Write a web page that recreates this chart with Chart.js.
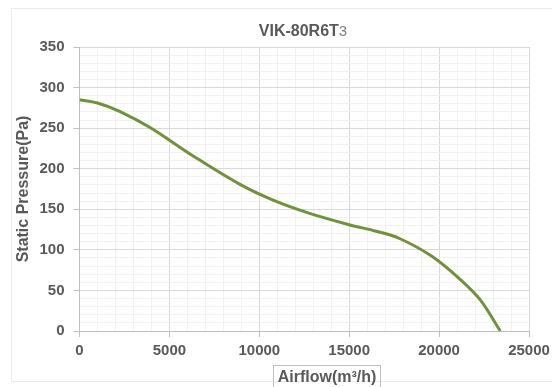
<!DOCTYPE html>
<html>
<head>
<meta charset="utf-8">
<script src="https://cdn.jsdelivr.net/npm/chart.js@4/dist/chart.umd.min.js"></script>
<style>
  body { margin: 0; background: #fff; font-family: "Liberation Sans", Arial, sans-serif; }
  #wrap { position: relative; width: 552px; height: 387px; overflow: hidden; }
  #frame { position: absolute; left: 11px; top: 8px; width: 560px; height: 374px; border: 1px solid #ebebeb; box-sizing: border-box; }
  #title { position: absolute; left: 203px; width: 200px; top: 21px; text-align: center; font-size: 16px; font-weight: bold; color: #595959; line-height: 20px; }
  #title span { font-weight: normal; color: #7f7f7f; font-size: 15px; }
  #xtitle { position: absolute; left: 273px; top: 365px; width: 108px; height: 26px; border: 1px solid #bfbfbf; box-sizing: border-box; text-align: center; font-size: 16px; font-weight: bold; color: #595959; line-height: 22px; }
  canvas { position: absolute; left: 0; top: 0; }
</style>
</head>
<body>
<div id="wrap">
  <div id="frame"></div>
  <canvas id="myChart" width="552" height="387"></canvas>
  <div id="title">VIK-80R6T<span>3</span></div>
  <div id="xtitle">Airflow(m³/h)</div>
</div>
<script>
// airflow (m3/h) and static pressure (Pa)
let airflow = [0, 1000, 2200, 3900, 6300, 8900, 10800, 12800, 15000, 16500, 17800, 19600, 21200, 22300, 23400]
let pressure = [285, 281, 271, 251, 216, 181, 161, 145, 131, 123, 114, 92, 63, 38, 0]
let xTicks = [0, 5000, 10000, 15000, 20000, 25000]
let yTicks = [0, 50, 100, 150, 200, 250, 300, 350]

const grey = '#595959'
const tickFont = { family: 'Liberation Sans', size: 15, weight: 'bold' }

let points = airflow.map((x, i) => ({ x: x, y: pressure[i] }))

// major lines on labelled ticks, faint ones in between
function gridColor(list) {
  return (c) => list.includes(c.tick && c.tick.value) ? '#d9d9d9' : '#f1f1f1'
}
function tickMark(list) {
  return (c) => list.includes(c.tick && c.tick.value) ? '#bfbfbf' : 'rgba(0,0,0,0)'
}

var data = {
  datasets: [{
    label: 'VIK-80R6T3',
    data: points,
    showLine: true,
    borderColor: '#71913a',
    borderWidth: 3,
    pointRadius: 0,
    fill: false,
    tension: 0.35
  }]
}

var config = {
  type: 'scatter',
  data: data,
  options: {
    responsive: false,
    animation: false,
    layout: { padding: { top: 47, right: 23, bottom: 0, left: 0 } },
    plugins: { legend: { display: false }, tooltip: { enabled: false } },
    scales: {
      x: {
        type: 'linear',
        min: 0,
        max: 25000,
        afterFit: (s) => { s.height = 56; s.paddingLeft = 0; s.paddingRight = 0 },
        afterBuildTicks: (s) => { s.ticks = []; for (let v = 0; v <= 25000; v += 1000) s.ticks.push({ value: v }) },
        ticks: {
          autoSkip: false,
          maxRotation: 0,
          padding: 5,
          color: grey,
          font: tickFont,
          callback: (v) => xTicks.includes(v) ? String(v) : ''
        },
        grid: { color: gridColor(xTicks), tickColor: tickMark(xTicks), tickLength: 6 },
        border: { color: '#bfbfbf' }
      },
      y: {
        min: 0,
        max: 350,
        afterFit: (s) => { s.width = 79.5; s.paddingTop = 0; s.paddingBottom = 0 },
        afterBuildTicks: (s) => { s.ticks = []; for (let v = 0; v <= 350; v += 10) s.ticks.push({ value: v }) },
        ticks: {
          autoSkip: false,
          padding: 9,
          color: grey,
          font: tickFont,
          callback: (v) => yTicks.includes(v) ? String(v) : ''
        },
        grid: { color: gridColor(yTicks), tickColor: tickMark(yTicks), tickLength: 6 },
        border: { color: '#bfbfbf' },
        title: {
          display: true,
          text: 'Static Pressure(Pa)',
          color: grey,
          font: { family: 'Liberation Sans', size: 16, weight: 'bold' },
          padding: { top: 14, bottom: 0 }
        }
      }
    }
  }
}

const ctx = document.getElementById('myChart')
var Pcurve = new Chart(ctx, config)
</script>
</body>
</html>
